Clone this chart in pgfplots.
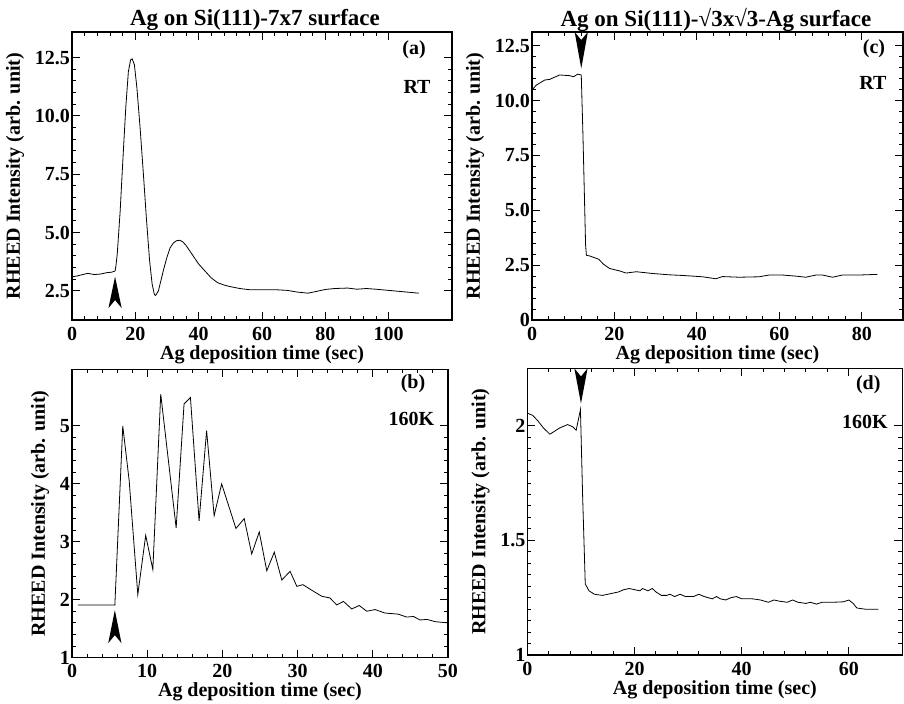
\documentclass[border=0pt]{standalone}
\usepackage{fontspec}
\setmainfont{Liberation Serif}
\usepackage{pgfplots}
\pgfplotsset{compat=1.18}

\pgfplotsset{
  panel/.style={
    scale only axis, anchor=south west,
    axis line style={line width=0.6pt},
    every tick/.style={black, line width=0.5pt},
    major tick length=4pt, minor tick length=2pt,
    tick label style={font=\bfseries\fontsize{10}{12}\selectfont},
    yticklabel style={xshift=2.5pt},
    /pgf/number format/assume math mode=true,
    label style={font=\bfseries\fontsize{10}{12}\selectfont},
    xlabel={Ag deposition time (sec)},
    ylabel={RHEED Intensity (arb. unit)},
    xlabel style={yshift=4.5pt},
    ylabel style={yshift=-1.5pt},
    minor x tick num=4, minor y tick num=4,
    cycle list={{black, line width=0.5pt}},
    no markers,
  },
}
\tikzset{tag/.style={font=\bfseries\fontsize{10}{12}\selectfont}}

\begin{document}
\begin{tikzpicture}
\useasboundingbox (0,0) rectangle (452pt,351.5pt);

\node[font=\bfseries\fontsize{11.5}{13}\selectfont] at (127.5pt,341.5pt) {Ag on Si(111)-7x7 surface};
\node[font=\bfseries\fontsize{11.5}{13}\selectfont] at (358pt,341.5pt) {Ag on Si(111)-√3x√3-Ag surface};

% (a) 7x7, RT
\begin{axis}[panel, at={(36pt,191.5pt)}, width=190pt, height=144pt,
  xmin=0, xmax=120, ymin=1.25, ymax=13.6,
  xtick={0,20,...,100}, ytick={2.5,5,7.5,10,12.5},
  yticklabels={2.5,5.0,7.5,10.0,12.5}]
\addplot coordinates {(0,3.10)(2,3.15)(4,3.22)(5,3.25)(7,3.2)(9,3.22)(11,3.28)(12.5,3.3)(13.6,3.35)
 (13.9,3.6)(14.3,4.1)(15.2,5.9)(16.1,8.2)(17,10.4)(17.8,11.9)(18.5,12.4)(19,12.45)(19.7,12.2)
 (20.5,11.2)(21.5,9.5)(22.5,7.6)(23.5,5.6)(24.5,3.8)(25.3,2.8)(26,2.35)(26.4,2.3)(27.3,2.5)
 (28,2.9)(29,3.45)(30,3.95)(31,4.35)(32,4.55)(33,4.65)(34,4.67)(35,4.6)(36,4.45)(37,4.25)
 (38,4.05)(39,3.85)(40,3.65)(42,3.35)(44,3.05)(46,2.85)(48,2.75)(50,2.68)(53,2.6)(56,2.55)
 (60,2.55)(64,2.55)(68,2.52)(71,2.45)(74.5,2.4)(77,2.47)(80,2.56)(83,2.6)(87,2.62)(90,2.57)
 (93,2.6)(96,2.57)(100,2.52)(104,2.47)(109.5,2.4)};
\fill (axis cs:13.6,3.11) -- ([xshift=-3.3pt]axis cs:13.6,1.76) -- ([yshift=4pt]axis cs:13.6,1.76) -- ([xshift=3.3pt]axis cs:13.6,1.76) -- cycle;
\node[tag] at (rel axis cs:0.90,0.9375) {(a)};
\node[tag] at (rel axis cs:0.908,0.809) {RT};
\end{axis}

% (c) sqrt3, RT
\begin{axis}[panel, at={(266pt,191.5pt)}, width=185.5pt, height=144pt,
  xmin=0, xmax=90, ymin=0, ymax=13.13,
  xtick={0,20,...,80}, ytick={0,2.5,5,7.5,10,12.5},
  yticklabels={0,2.5,5.0,7.5,10.0,12.5}]
\addplot coordinates {(0.1,10.51)(1.06,10.71)(3.07,10.94)(4.28,10.97)(6.7,11.17)(9.1,11.14)
 (10.1,11.09)(11.1,11.21)(11.95,11.17)(12.35,8.5)(13.0,3.42)(13.2,2.95)(14,2.92)(16.2,2.77)
 (17.3,2.55)(18.8,2.35)(21.2,2.24)(22.8,2.14)(25.3,2.2)(29.3,2.12)(33.3,2.06)(36.6,2.03)
 (41.4,1.97)(44.6,1.88)(46.2,1.98)(50.3,1.95)(55.1,1.97)(57.5,2.05)(60.8,2.05)(64,2.0)
 (66.4,1.95)(68.9,2.05)(70.5,2.05)(72.9,1.95)(75.3,2.05)(79.3,2.05)(83.8,2.08)};
\fill (axis cs:11.95,11.47) -- ([xshift=-3.3pt]axis cs:11.95,13.13) -- ([yshift=-4pt]axis cs:11.95,13.13) -- ([xshift=3.3pt]axis cs:11.95,13.13) -- cycle;
\node[tag] at (rel axis cs:0.922,0.941) {(c)};
\node[tag] at (rel axis cs:0.919,0.823) {RT};
\end{axis}

% (b) 7x7, 160K
\begin{axis}[panel, at={(36pt,22.7pt)}, width=188pt, height=144.2pt,
  xmin=0, xmax=50, ymin=1, ymax=5.98,
  xtick={0,10,...,50}, ytick={1,2,3,4,5}]
\addplot coordinates {(0.8,1.91)(5.7,1.91)(6.75,5.0)(7.6,4.06)(8.75,2.09)(9.8,3.11)(10.75,2.52)
 (11.8,5.55)(13.85,3.24)(14.9,5.38)(15.75,5.49)(16.9,3.36)(17.9,4.92)(18.9,3.45)(19.9,4.0)
 (21.8,3.23)(22.9,3.4)(23.9,2.79)(24.9,3.17)(25.9,2.5)(26.9,2.82)(27.9,2.34)(29.0,2.49)
 (29.9,2.23)(30.7,2.26)(31.8,2.17)(33.2,2.06)(34.3,2.03)(35.2,1.91)(36.1,1.97)(37.2,1.84)
 (38.2,1.9)(39.2,1.8)(40.3,1.83)(41.6,1.77)(43.4,1.75)(44.5,1.70)(45.4,1.71)(46.3,1.65)
 (47.2,1.66)(48.3,1.62)(50,1.60)};
\fill (axis cs:5.7,1.82) -- ([xshift=-3.3pt]axis cs:5.7,1.25) -- ([yshift=4pt]axis cs:5.7,1.25) -- ([xshift=3.3pt]axis cs:5.7,1.25) -- cycle;
\node[tag] at (rel axis cs:0.907,0.951) {(b)};
\node[tag] at (rel axis cs:0.903,0.827) {160K};
\end{axis}

% (d) sqrt3, 160K
\begin{axis}[panel, at={(263.7pt,24pt)}, width=187.5pt, height=143.3pt,
  xmin=0, xmax=70, ymin=1, ymax=2.25,
  xtick={0,20,40,60}, ytick={1,1.5,2}, yticklabels={1,1.5,2},
  minor y tick num=9]
\addplot coordinates {(0,2.055)(1,2.045)(2,2.02)(3,1.99)(4.2,1.963)(5,1.975)(6,1.99)(7.5,2.005)
 (8.5,1.995)(9.1,1.98)(9.9,2.07)(10.3,1.7)(10.8,1.31)(11.5,1.28)(12.5,1.265)(14,1.26)(15,1.265)
 (16,1.27)(17,1.275)(18,1.285)(19,1.29)(20,1.285)(21,1.28)(21.5,1.29)(22.5,1.28)(23.3,1.29)
 (24,1.275)(25,1.26)(26,1.26)(26.6,1.265)(27.5,1.255)(28.5,1.265)(29.5,1.255)(31,1.255)
 (32,1.265)(33,1.255)(34.5,1.245)(35.3,1.255)(36,1.245)(37,1.24)(38,1.25)(39,1.255)(40,1.245)
 (42,1.245)(43.5,1.24)(45,1.23)(46,1.24)(47,1.235)(48.5,1.23)(49.5,1.24)(50.5,1.23)(52,1.225)
 (52.8,1.23)(54,1.222)(55,1.23)(57,1.23)(59,1.232)(60,1.24)(60.8,1.225)(61.5,1.205)(63,1.2)(65.5,1.2)};
\fill (axis cs:10.0,2.097) -- ([xshift=-3.3pt]axis cs:10.0,2.25) -- ([yshift=-4pt]axis cs:10.0,2.25) -- ([xshift=3.3pt]axis cs:10.0,2.25) -- cycle;
\node[tag] at (rel axis cs:0.909,0.942) {(d)};
\node[tag] at (rel axis cs:0.90,0.814) {160K};
\end{axis}
\end{tikzpicture}
\end{document}
